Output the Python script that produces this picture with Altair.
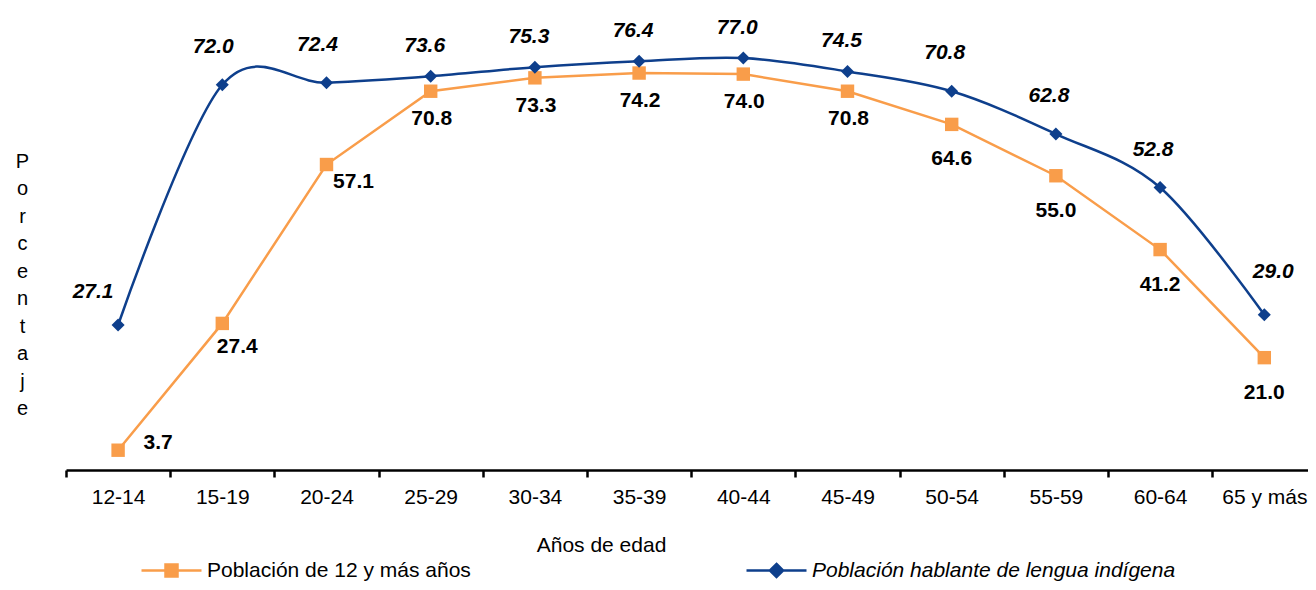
import altair as alt
import pandas as pd

# ---- data ----
categories = ["12-14", "15-19", "20-24", "25-29", "30-34", "35-39",
              "40-44", "45-49", "50-54", "55-59", "60-64", "65 y más"]
total_values = [3.7, 27.4, 57.1, 70.8, 73.3, 74.2, 74.0, 70.8, 64.6, 55.0, 41.2, 21.0]
indigenous_values = [27.1, 72.0, 72.4, 73.6, 75.3, 76.4, 77.0, 74.5, 70.8, 62.8, 52.8, 29.0]
series_total = "Población de 12 y más años"
series_ind = "Población hablante de lengua indígena"
x_title = "Años de edad"
y_title = "Porcentaje"

ORANGE = "#F99D4A"
BLUE = "#0E3F8C"
FONT = "Liberation Sans"

n = len(categories)
LEFT = 58
W = 1300 - LEFT
H = 428
band = 104.2
x_max = -0.5 + W / band


def frame(values, name):
    return pd.DataFrame({
        "i": list(range(n)),
        "cat": categories,
        "v": values,
        "lbl": [f"{v:.1f}" for v in values],
        "s": [name] * n,
    })


df_t = frame(total_values, series_total)
df_b = frame(indigenous_values, series_ind)

label_expr = "[" + ",".join(f"'{c}'" for c in categories) + "][round(datum.value + 0.5)]"

x_enc = alt.X(
    "i:Q",
    scale=alt.Scale(domain=[-0.5, x_max], nice=False, zero=False),
    axis=alt.Axis(
        values=[k - 0.5 for k in range(n)],
        labelExpr=label_expr,
        labelOffset=band / 2,
        labelFlush=False,
        labelOverlap=False,
        grid=False,
        domainColor="black",
        domainWidth=2.5,
        tickColor="black",
        tickWidth=2.5,
        tickSize=7,
        labelFont=FONT,
        labelFontSize=21,
        labelColor="black",
        labelPadding=9,
        title=x_title,
        titleFont=FONT,
        titleFontSize=21,
        titleFontWeight="normal",
        titleColor="black",
        titleX=535,
        titleY=75,
        titleAlign="center",
        titleBaseline="middle",
    ),
)

y_enc = alt.Y(
    "v:Q",
    scale=alt.Scale(domain=[0, 80], nice=False),
    axis=alt.Axis(
        labels=False, ticks=False, domain=False, grid=False,
        title=list(y_title),
        titleAngle=0,
        titleFont=FONT,
        titleFontSize=20,
        titleFontWeight="normal",
        titleColor="black",
        titleLineHeight=27.5,
        titleAlign="center",
        titleBaseline="alphabetic",
        titleX=-44,
        titleY=125,
    ),
)


def labels(df, filt, dx, dy, italic):
    return alt.Chart(df).transform_filter(filt).mark_text(
        dx=dx, dy=dy, font=FONT, fontSize=21, fontWeight="bold",
        fontStyle="italic" if italic else "normal", color="black",
        align="center", baseline="middle",
    ).encode(x=x_enc, y=y_enc, text="lbl:N")


d = alt.datum

# orange series
line_t = alt.Chart(df_t).mark_line(color=ORANGE, strokeWidth=2.5).encode(x=x_enc, y=y_enc)
pts_t = alt.Chart(df_t).mark_point(shape="square", filled=True, size=180, opacity=1).encode(
    x=x_enc, y=y_enc,
    color=alt.Color("s:N", scale=alt.Scale(domain=[series_total], range=[ORANGE]),
                    legend=alt.Legend(
                        orient="none", legendX=74, legendY=497, title=None,
                        symbolType="M-1,0H1M-0.2,-0.2H0.2V0.2H-0.2Z",
                        symbolSize=3600, symbolStrokeColor=ORANGE,
                        symbolFillColor=ORANGE, symbolStrokeWidth=2.5,
                        labelFont=FONT, labelFontSize=21, labelColor="black",
                        labelLimit=0, labelOffset=4, padding=0)),
)
orange = alt.layer(
    line_t, pts_t,
    labels(df_t, d.i == 0, 40, -7, False),
    labels(df_t, d.i == 1, 15, 24, False),
    labels(df_t, d.i == 2, 27, 17, False),
    labels(df_t, (d.i >= 3) & (d.i <= 7), 1, 28, False),
    labels(df_t, d.i >= 8, 0, 35, False),
)

# blue series
line_b = alt.Chart(df_b).mark_line(color=BLUE, strokeWidth=2.5, interpolate="cardinal").encode(x=x_enc, y=y_enc)
pts_b = alt.Chart(df_b).mark_point(shape="diamond", filled=True, size=170, opacity=1).encode(
    x=x_enc, y=y_enc,
    color=alt.Color("s:N", scale=alt.Scale(domain=[series_ind], range=[BLUE]),
                    legend=alt.Legend(
                        orient="none", legendX=679, legendY=497, title=None,
                        symbolType="M-1,0H1M0,-0.22L0.22,0L0,0.22L-0.22,0Z",
                        symbolSize=3600, symbolStrokeColor=BLUE,
                        symbolFillColor=BLUE, symbolStrokeWidth=2.5,
                        labelFont=FONT, labelFontSize=21, labelColor="black",
                        labelFontStyle="italic",
                        labelLimit=0, labelOffset=4, padding=0)),
)
blue = alt.layer(
    line_b, pts_b,
    labels(df_b, d.i == 0, -25, -33, True),
    labels(df_b, (d.i >= 1) & (d.i <= 2), -9, -38, True),
    labels(df_b, (d.i >= 3) & (d.i <= 7), -6, -30, True),
    labels(df_b, (d.i >= 8) & (d.i <= 10), -7, -38, True),
    labels(df_b, d.i == 11, 9, -43, True),
)

chart = alt.layer(orange, blue).resolve_scale(color="independent").properties(
    width=W, height=H,
    autosize=alt.AutoSizeParams(type="none"),
    padding={"left": LEFT, "top": 34, "right": 0, "bottom": 112},
    background="white",
).configure_view(stroke=None)

chart.save("out.html", embed_options={"renderer": "svg", "actions": False})
